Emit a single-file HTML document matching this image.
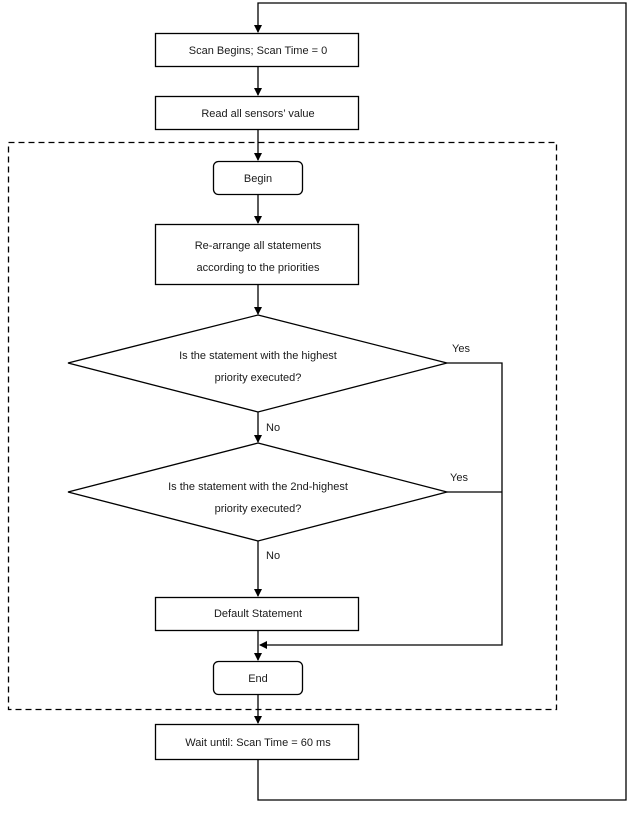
<!DOCTYPE html>
<html><head><style>
body{margin:0;background:#fff;}
svg text{font-family:"Liberation Sans",sans-serif;font-size:11px;fill:#1a1a1a;}
</style></head><body>
<svg width="635" height="809" viewBox="0 0 635 809" xmlns="http://www.w3.org/2000/svg">
<defs><marker id="a" markerWidth="8" markerHeight="8" refX="7" refY="4" orient="auto" markerUnits="userSpaceOnUse"><path d="M0,0 L8,4 L0,8 z" fill="#000"/></marker></defs>
<g fill="none" stroke="#000" stroke-width="1.3">
<rect x="8.5" y="142.5" width="548" height="567" stroke-dasharray="6,4"/>
<polyline points="258,760 258,800 626,800 626,3 258,3 258,32" marker-end="url(#a)"/>
<rect x="155.5" y="33.5" width="203" height="33" fill="#fff"/>
<line x1="258" y1="67" x2="258" y2="95" marker-end="url(#a)"/>
<rect x="155.5" y="96.5" width="203" height="33" fill="#fff"/>
<line x1="258" y1="130" x2="258" y2="160" marker-end="url(#a)"/>
<rect x="213.5" y="161.5" width="89" height="33" rx="5" fill="#fff"/>
<line x1="258" y1="195" x2="258" y2="223" marker-end="url(#a)"/>
<rect x="155.5" y="224.5" width="203" height="60" fill="#fff"/>
<line x1="258" y1="285" x2="258" y2="314" marker-end="url(#a)"/>
<polygon points="258,315 447,363 258,412 68,363" fill="#fff"/>
<line x1="258" y1="412" x2="258" y2="442" marker-end="url(#a)"/>
<polygon points="258,443 447,492 258,541 68,492" fill="#fff"/>
<line x1="258" y1="541" x2="258" y2="596" marker-end="url(#a)"/>
<rect x="155.5" y="597.5" width="203" height="33" fill="#fff"/>
<polyline points="447,363 502,363 502,645 260,645" marker-end="url(#a)"/>
<line x1="447" y1="492" x2="502" y2="492"/>
<line x1="258" y1="631" x2="258" y2="660" marker-end="url(#a)"/>
<rect x="213.5" y="661.5" width="89" height="33" rx="5" fill="#fff"/>
<line x1="258" y1="695" x2="258" y2="723" marker-end="url(#a)"/>
<rect x="155.5" y="724.5" width="203" height="35" fill="#fff"/>
</g>
<g text-anchor="middle">
<text x="258" y="54">Scan Begins; Scan Time = 0</text>
<text x="258" y="117">Read all sensors’ value</text>
<text x="258" y="182">Begin</text>
<text x="258" y="249">Re-arrange all statements</text>
<text x="258" y="271">according  to the priorities</text>
<text x="258" y="359">Is the statement  with  the highest</text>
<text x="258" y="381">priority executed?</text>
<text x="258" y="490">Is the statement  with  the 2nd-highest</text>
<text x="258" y="512">priority executed?</text>
<text x="258" y="617">Default  Statement</text>
<text x="258" y="682">End</text>
<text x="258" y="746">Wait until:  Scan Time = 60 ms</text>
</g>
<text x="452" y="352">Yes</text>
<text x="450" y="481">Yes</text>
<text x="266" y="431">No</text>
<text x="266" y="559">No</text>
</svg>
</body></html>
